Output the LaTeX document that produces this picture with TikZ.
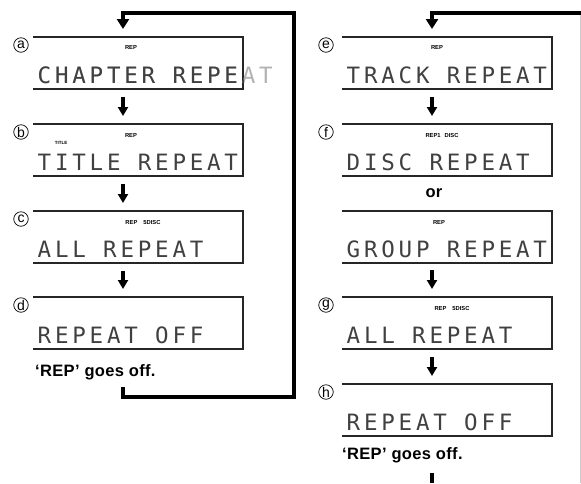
\documentclass[tikz,border=0pt]{standalone}
\usepackage{fontspec}
\setmainfont{Liberation Sans}
\newfontfamily\lcdfont[LetterSpace=16.8]{DejaVu Sans Mono}
\newfontfamily\notefont[LetterSpace=2]{Liberation Sans}
\usetikzlibrary{arrows.meta,calc}
\tikzset{
  panel/.style={minimum width=210pt, minimum height=52pt, anchor=north west, inner sep=0pt, outer sep=0pt},
  frame/.style={line width=1.2pt, draw=black!85},
  lcd/.style={font=\lcdfont\fontsize{22.5}{22.5}\selectfont, text=black!75, anchor=base west, inner sep=0pt},
  tiny/.style={font=\bfseries\fontsize{5.8}{6}\selectfont, inner sep=0pt},
  circ/.style={circle, draw, line width=0.7pt, minimum size=14.5pt, inner sep=0pt, font=\fontsize{14}{14}\selectfont},
  flow/.style={line width=3.5pt, -{Triangle[width=10pt,length=9pt]}},
  loopline/.style={line width=4pt, line join=miter},
  note/.style={font=\notefont\bfseries\fontsize{16.5}{16.5}\selectfont, inner sep=0pt}
}
\begin{document}
\begin{tikzpicture}[x=1pt,y=-1pt]
\useasboundingbox (0,0) rectangle (581,483);
% panels
\node[panel] (a) at (33,37) {};
\node[panel] (b) at (33,124) {};
\node[panel] (c) at (33,211) {};
\node[panel] (d) at (33,297) {};
\node[panel] (e) at (342,37) {};
\node[panel] (f) at (342,124) {};
\node[panel] (grp) at (342,211) {};
\node[panel] (g) at (342,297) {};
\node[panel] (h) at (342,384) {};
\foreach \p in {a,b,c,d,e,f,grp,g,h}{
  \draw[frame] (\p.north west) -- (\p.north east) -- (\p.south east) -- (\p.south west);
}
% circled letters
\foreach \p/\l in {a/a,b/b,c/c,d/d}{
  \node[circ] (lab\p) at ($(\p.north west)+(-12,8)$) {\l};
}
\foreach \p/\l in {e/e,f/f,g/g,h/h}{
  \node[circ] (lab\p) at ($(\p.north west)+(-16,8)$) {\l};
}
% LCD texts
\node[lcd, text=black!30] (ta) at ($(a.north west)+(4.5,46)$) {CHAPTER REPEAT};
\begin{scope}
  \clip (a.north west) rectangle (a.south east);
  \node[lcd] (ta2) at ($(a.north west)+(4.5,46)$) {CHAPTER REPEAT};
\end{scope}
\node[lcd] (tb) at ($(b.north west)+(4.5,46)$) {TITLE REPEAT};
\node[lcd] (tc) at ($(c.north west)+(4.5,46)$) {ALL REPEAT};
\node[lcd] (td) at ($(d.north west)+(4.5,46)$) {REPEAT OFF};
\node[lcd] (te) at ($(e.north west)+(4.5,46)$) {TRACK REPEAT};
\node[lcd] (tf) at ($(f.north west)+(4.5,46)$) {DISC REPEAT};
\node[lcd] (tgrp) at ($(grp.north west)+(4.5,46)$) {GROUP REPEAT};
\node[lcd] (tg) at ($(g.north west)+(4.5,46)$) {ALL REPEAT};
\node[lcd] (th) at ($(h.north west)+(4.5,46)$) {REPEAT OFF};
% small indicators
\node[tiny] (ia) at ($(a.north west)+(98,10)$) {REP};
\node[tiny] (ib) at ($(b.north west)+(98,11)$) {REP};
\node[tiny, font=\bfseries\fontsize{4.5}{5}\selectfont] (ib2) at ($(b.north west)+(28,19)$) {TITLE};
\node[tiny] (ic) at ($(c.north west)+(110,11)$) {REP\hspace{6pt}5DISC};
\node[tiny] (ie) at ($(e.north west)+(95,10)$) {REP};
\node[tiny] (if) at ($(f.north west)+(100,11)$) {REP1\hspace{4pt}DISC};
\node[tiny] (igrp) at ($(grp.north west)+(97,11)$) {REP};
\node[tiny] (ig) at ($(g.north west)+(110,11)$) {REP\hspace{6pt}5DISC};
% notes
\node[note, anchor=west] (nL) at (35,372) {‘REP’ goes off.};
\node[note, anchor=west] (nR) at (342,455) {‘REP’ goes off.};
\node[note] (or) at (434,193) {or};
% arrows between panels
\draw[flow] ($(a.south west)+(90,8)$) -- ($(b.north west)+(90,-8)$);
\draw[flow] ($(b.south west)+(90,8)$) -- ($(c.north west)+(90,-8)$);
\draw[flow] ($(c.south west)+(90,8)$) -- ($(d.north west)+(90,-8)$);
\draw[flow] ($(e.south west)+(90,8)$) -- ($(f.north west)+(90,-8)$);
\draw[flow] ($(grp.south west)+(90,7)$) -- ($(g.north west)+(90,-8)$);
\draw[flow] ($(g.south west)+(90,8)$) -- ($(h.north west)+(90,-8)$);
% return loops
\coordinate (Lstart) at (123,387);
\coordinate (Lbot) at (294,397);
\coordinate (Ltop) at (294,13);
\draw[loopline, -{Triangle[width=12pt,length=10pt]}] (Lstart) |- (Lbot) -- (Ltop) -| ($(a.north west)+(90,-8)$);
\coordinate (Rin) at (581,13);
\draw[loopline, -{Triangle[width=12pt,length=10pt]}] (Rin) -| ($(e.north west)+(90,-8)$);
\coordinate (Rout) at (432,473);
\coordinate (Rend) at (432,483);
\draw[loopline] (Rout) -- (Rend);
\coordinate (Gtop) at (580,15);
\coordinate (Gbot) at (580,483);
\draw[line width=1pt, black!20] (Gtop) -- (Gbot);
\end{tikzpicture}
\end{document}
